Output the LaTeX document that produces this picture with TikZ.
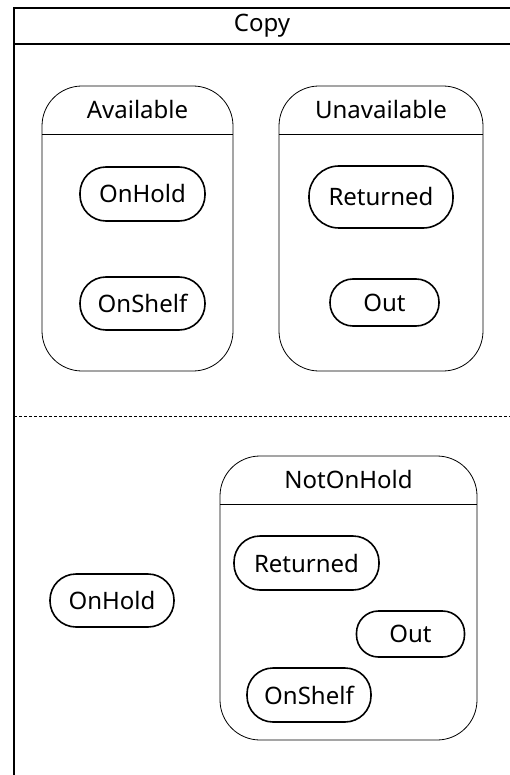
\documentclass[tikz,border=0pt]{standalone}
\usepackage{fontspec}
\setmainfont{Noto Sans}
\begin{document}
\begin{tikzpicture}[x=1pt,y=-1pt,
  txt/.style={font=\fontsize{24pt}{28pt}\selectfont, inner sep=0pt},
  framel/.style={line width=1.8pt},
  comp/.style={draw, line width=0.8pt, rounded corners=40pt, inner sep=0pt},
  sepl/.style={line width=0.8pt},
  st/.style={draw, line width=1.6pt, inner sep=0pt, font=\fontsize{24pt}{28pt}\selectfont}]
\useasboundingbox (0,0) rectangle (510,775);
\clip (0,0) rectangle (510,775);
% outer frame
\coordinate (fbl) at (14,790);
\coordinate (ftl) at (14,8);
\coordinate (ftr) at (530,8);
\coordinate (fbr) at (530,790);
\coordinate (hl) at (14,44);
\coordinate (hr) at (530,44);
\coordinate (dl) at (14,416);
\coordinate (dr) at (530,416);
\draw[framel] (fbl) -- (ftl) -- (ftr) -- (fbr) -- cycle;
\draw[framel] (hl) -- (hr);
\draw[line width=0.5pt, dash pattern=on 3pt off 2pt] (dl) -- (dr);
\node[txt] (copy) at (262,26) {Copy};
% Available
\node[comp, minimum width=191pt, minimum height=285pt] (avail) at (137.5,228.5) {};
\node[txt] (availlbl) at (137.5,110) {Available};
\coordinate (avl) at (42,134);
\coordinate (avr) at (233,134);
\draw[sepl] (avl) -- (avr);
\node[st, minimum width=125pt, minimum height=54pt, rounded corners=26pt] (onhold1) at (142.5,194) {OnHold};
\node[st, minimum width=125pt, minimum height=53pt, rounded corners=26pt] (onshelf1) at (142.5,303.5) {OnShelf};
% Unavailable
\node[comp, minimum width=204pt, minimum height=285pt] (unavail) at (381,228.5) {};
\node[txt] (unavaillbl) at (381,110) {Unavailable};
\coordinate (uvl) at (279,134);
\coordinate (uvr) at (483,134);
\draw[sepl] (uvl) -- (uvr);
\node[st, minimum width=144pt, minimum height=62pt, rounded corners=30pt] (returned1) at (381,197) {Returned};
\node[st, minimum width=109pt, minimum height=47pt, rounded corners=23pt] (out1) at (384.5,302.5) {Out};
% NotOnHold
\node[comp, minimum width=257pt, minimum height=284pt] (notonhold) at (348.5,598) {};
\node[txt] (notonholdlbl) at (348.5,479) {NotOnHold};
\coordinate (nl) at (220,504);
\coordinate (nr) at (477,504);
\draw[sepl] (nl) -- (nr);
\node[st, minimum width=145pt, minimum height=54pt, rounded corners=26pt] (returned2) at (306.5,563) {Returned};
\node[st, minimum width=108pt, minimum height=46pt, rounded corners=22pt] (out2) at (410.5,634) {Out};
\node[st, minimum width=124pt, minimum height=54pt, rounded corners=26pt] (onshelf2) at (309,695) {OnShelf};
\node[st, minimum width=124pt, minimum height=53pt, rounded corners=26pt] (onhold2) at (112,600.5) {OnHold};
\end{tikzpicture}
\end{document}
